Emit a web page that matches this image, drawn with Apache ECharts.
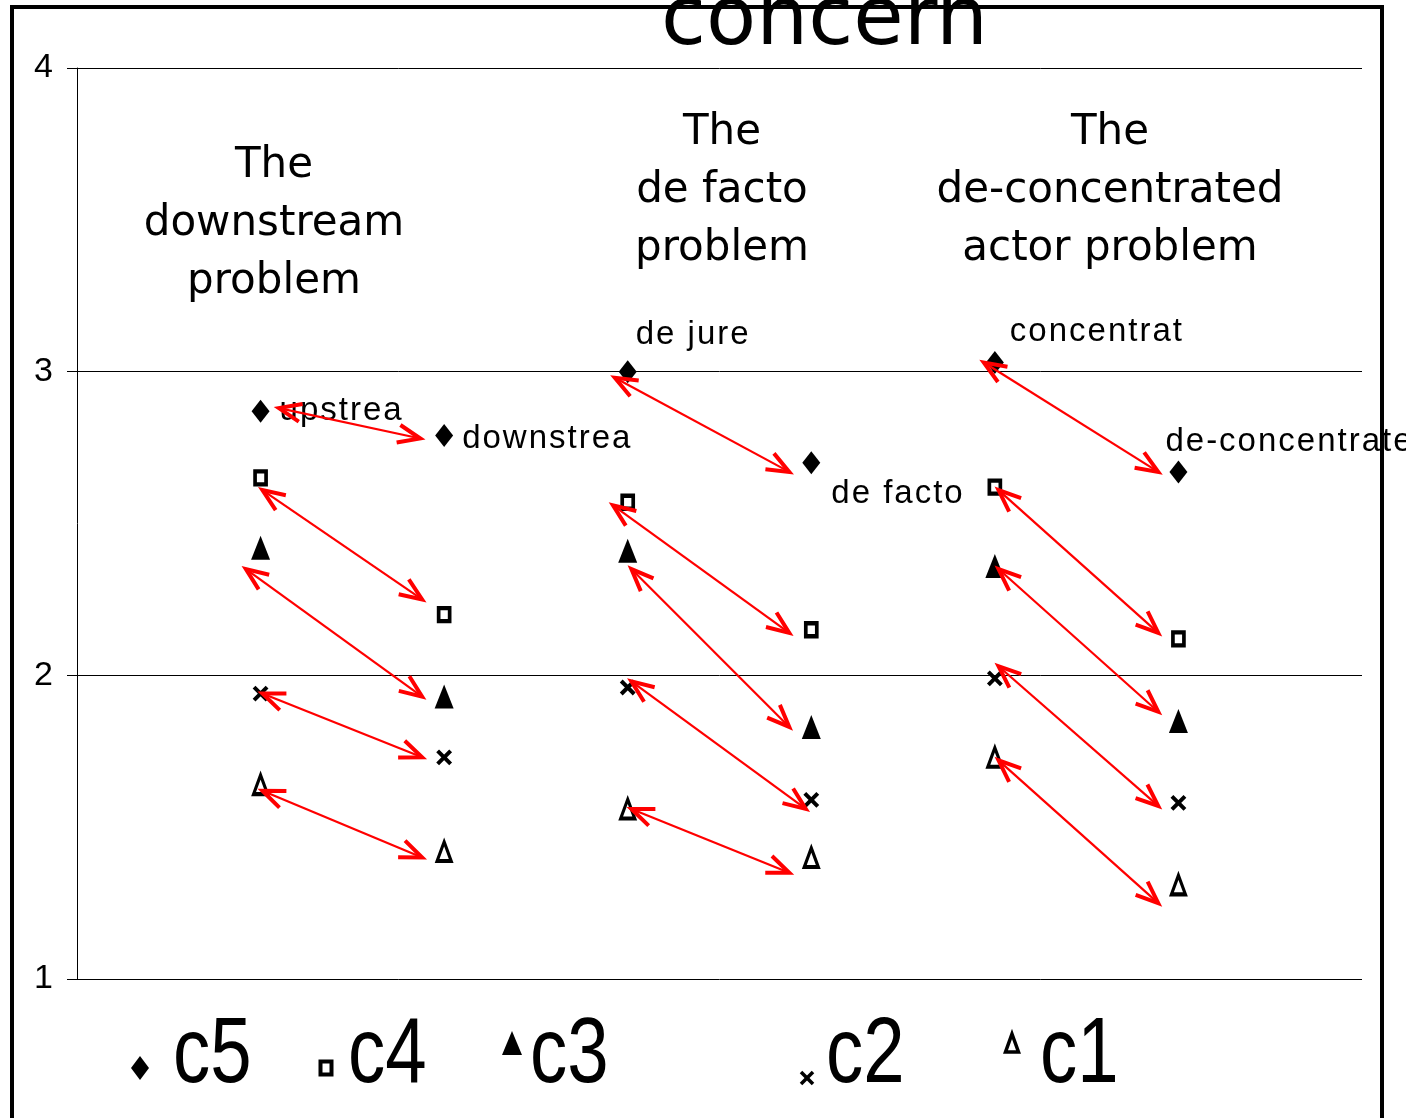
<!DOCTYPE html>
<html>
<head>
<meta charset="utf-8">
<script src="https://cdn.jsdelivr.net/npm/echarts@6/dist/echarts.min.js"></script>
<style>
html, body { margin: 0; padding: 0; background: #fff; }
#chart { width: 1406px; height: 1118px; }
</style>
</head>
<body>
<div id="chart"></div>
<script>
// Six measurement columns, two per problem (before / after)
const columns = [1, 2, 3, 4, 5, 6];

// Mean scores of each item in each column
const c5 = [2.87, 2.79, 3.00, 2.70, 3.03, 2.67];
const c4 = [2.65, 2.20, 2.57, 2.15, 2.62, 2.12];
const c3 = [2.42, 1.93, 2.41, 1.83, 2.36, 1.85];
const c2 = [1.94, 1.73, 1.96, 1.59, 1.99, 1.58];
const c1 = [1.64, 1.42, 1.56, 1.40, 1.73, 1.31];

const yTicks = [1, 2, 3, 4];

// Column captions (as printed, cut short)
const columnLabels = ['upstrea', 'downstrea', 'de jure', 'de facto', 'concentrat', 'de-concentrate'];

const problemTitles = [
  'The\ndownstream\nproblem',
  'The\nde facto\nproblem',
  'The\nde-concentrated\nactor problem'
];

const chartTitle = 'concern';
const legendNames = ['c5', 'c4', 'c3', 'c2', 'c1'];

// Double-headed arrows linking the paired columns: [x1, y1, x2, y2]
const arrows = [
  [1.10, 2.88, 1.87, 2.78],
  [1.01, 2.61, 1.88, 2.25],
  [0.92, 2.35, 1.88, 1.93],
  [1.01, 1.94, 1.88, 1.73],
  [1.01, 1.62, 1.88, 1.40],
  [2.93, 2.98, 3.88, 2.67],
  [2.92, 2.56, 3.88, 2.14],
  [3.02, 2.35, 3.88, 1.83],
  [3.02, 1.98, 3.97, 1.56],
  [3.02, 1.56, 3.88, 1.35],
  [4.94, 3.03, 5.89, 2.67],
  [5.02, 2.61, 5.89, 2.14],
  [5.02, 2.35, 5.89, 1.88],
  [5.02, 2.03, 5.89, 1.57],
  [5.02, 1.72, 5.89, 1.25]
];

// ---- styling / layout ----
const labelOffsets = [[9, 0], [8, 3], [-2, -37], [10, 31], [5, -31], [-23, -30]];
const crossPath = 'path://M0,0L10,10M10,0L0,10';
const ARROW_COLOR = '#ff0000';
const HEAD_LEN = 24;
const HEAD_ANGLE = 22 * Math.PI / 180;

function spaced(text) {
  return text.split('').map(function (ch) { return '{g|' + ch + '}'; }).join('');
}

const labelRich = {
  g: {
    fontFamily: 'Liberation Sans',
    fontSize: 33,
    color: '#000',
    padding: [0, 1, 0, 1]
  }
};

function points(values) {
  return columns.map(function (x, i) { return [x, values[i]]; });
}

// Open chevron with its tip on `tip`, opening back towards `from`
function chevron(tip, from) {
  const dx = from[0] - tip[0];
  const dy = from[1] - tip[1];
  const len = Math.sqrt(dx * dx + dy * dy) || 1;
  const ux = dx / len, uy = dy / len;
  const c = Math.cos(HEAD_ANGLE), s = Math.sin(HEAD_ANGLE);
  return [
    [tip[0] + (ux * c - uy * s) * HEAD_LEN, tip[1] + (ux * s + uy * c) * HEAD_LEN],
    [tip[0], tip[1]],
    [tip[0] + (ux * c + uy * s) * HEAD_LEN, tip[1] + (-ux * s + uy * c) * HEAD_LEN]
  ];
}

function renderArrow(params, api) {
  const a = api.coord([api.value(0), api.value(1)]);
  const b = api.coord([api.value(2), api.value(3)]);
  return {
    type: 'group',
    children: [
      { type: 'line', shape: { x1: a[0], y1: a[1], x2: b[0], y2: b[1] },
        style: { stroke: ARROW_COLOR, lineWidth: 2.2 } },
      { type: 'polyline', shape: { points: chevron(a, b) },
        style: { stroke: ARROW_COLOR, lineWidth: 4, fill: null, lineJoin: 'miter' } },
      { type: 'polyline', shape: { points: chevron(b, a) },
        style: { stroke: ARROW_COLOR, lineWidth: 4, fill: null, lineJoin: 'miter' } }
    ]
  };
}

const chart = echarts.init(document.getElementById('chart'), null, { renderer: 'canvas' });

const seriesDefs = [
  { name: 'c5', data: c5, symbol: 'diamond', size: [18, 23], item: { color: '#000', borderWidth: 0 } },
  { name: 'c4', data: c4, symbol: 'rect', size: [11, 13], item: { color: '#fff', borderColor: '#000', borderWidth: 4 } },
  { name: 'c3', data: c3, symbol: 'triangle', size: [19, 24], item: { color: '#000', borderWidth: 0 } },
  { name: 'c2', data: c2, symbol: crossPath, size: [13, 13], item: { color: '#000', borderColor: '#000', borderWidth: 4 } },
  { name: 'c1', data: c1, symbol: 'triangle', size: [14, 19], item: { color: '#fff', borderColor: '#000', borderWidth: 3.5 } }
];

const series = seriesDefs.map(function (d) {
  let data = points(d.data);
  if (d.name === 'c5') {
    data = data.map(function (p, i) {
      return {
        value: p,
        label: {
          show: true,
          position: 'right',
          distance: 0,
          offset: labelOffsets[i],
          color: '#000',
          formatter: spaced(columnLabels[i]),
          rich: labelRich
        }
      };
    });
  }
  return {
    name: d.name,
    type: 'scatter',
    data: data,
    symbol: d.symbol,
    symbolSize: d.size,
    itemStyle: Object.assign({ opacity: 1 }, d.item),
    z: 2,
    emphasis: { disabled: true }
  };
});

series.push({
  type: 'custom',
  name: 'arrows',
  coordinateSystem: 'cartesian2d',
  z: 3,
  silent: true,
  data: arrows,
  encode: { x: [0, 2], y: [1, 3] },
  renderItem: renderArrow
});

// Problem headings
const headingPos = [[274, 137], [722, 104], [1110, 104]];
const graphics = problemTitles.map(function (t, i) {
  return {
    type: 'text',
    x: headingPos[i][0],
    y: headingPos[i][1],
    z: 5,
    style: {
      text: t,
      fontFamily: 'DejaVu Sans',
      fontSize: 42,
      lineHeight: 58,
      fill: '#000',
      align: 'center',
      verticalAlign: 'top'
    }
  };
});

// Outer frame
graphics.push({
  type: 'rect',
  z: 1,
  shape: { x: 12, y: 7, width: 1370, height: 1200 },
  style: { fill: 'none', stroke: '#000', lineWidth: 4 }
});

// Key along the bottom
const keyTextX = [173, 348, 530, 826, 1040];
legendNames.forEach(function (n, i) {
  graphics.push({
    type: 'text',
    x: keyTextX[i],
    y: 1056,
    z: 5,
    scaleX: 0.8,
    style: {
      text: n,
      fontFamily: 'Liberation Sans',
      fontSize: 93,
      fill: '#000',
      align: 'left',
      verticalAlign: 'middle'
    }
  });
});
graphics.push(
  { type: 'polygon', z: 5, shape: { points: [[140, 1056], [149, 1068], [140, 1080], [131, 1068]] }, style: { fill: '#000' } },
  { type: 'rect', z: 5, shape: { x: 320.5, y: 1061.5, width: 11, height: 13 }, style: { fill: '#fff', stroke: '#000', lineWidth: 4 } },
  { type: 'polygon', z: 5, shape: { points: [[512, 1031], [522, 1055], [502, 1055]] }, style: { fill: '#000' } },
  { type: 'polyline', z: 5, shape: { points: [[801, 1072], [813, 1084]] }, style: { stroke: '#000', lineWidth: 3.5, fill: 'none' } },
  { type: 'polyline', z: 5, shape: { points: [[813, 1072], [801, 1084]] }, style: { stroke: '#000', lineWidth: 3.5, fill: 'none' } },
  { type: 'polygon', z: 5, shape: { points: [[1012, 1034], [1018.5, 1052], [1005.5, 1052]] }, style: { fill: '#fff', stroke: '#000', lineWidth: 3.5 } }
);

chart.setOption({
  animation: false,
  backgroundColor: '#fff',
  title: {
    text: chartTitle,
    left: 661,
    top: -18,
    padding: 0,
    z: 6,
    textStyle: { fontFamily: 'DejaVu Sans', fontSize: 82, fontWeight: 'normal', color: '#000' }
  },
  grid: { left: 77, right: 44, top: 68, bottom: 139, containLabel: false },
  xAxis: {
    type: 'value',
    min: 0,
    max: 7,
    show: false
  },
  yAxis: {
    type: 'value',
    min: yTicks[0],
    max: yTicks[yTicks.length - 1],
    interval: 1,
    axisLine: { show: true, lineStyle: { color: '#000', width: 1 } },
    axisTick: { show: true, length: 10, lineStyle: { color: '#000', width: 1 } },
    axisLabel: { margin: 24, fontFamily: 'Liberation Sans', fontSize: 34, color: '#000' },
    splitLine: { show: true, lineStyle: { color: '#000', width: 1 } }
  },
  series: series,
  graphic: graphics
});
</script>
</body>
</html>
